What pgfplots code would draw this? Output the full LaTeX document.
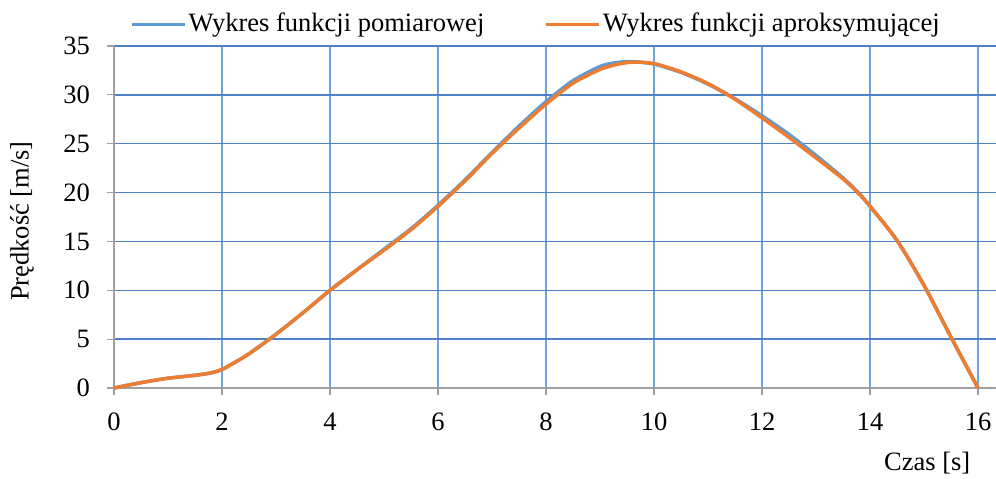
\documentclass[border=0pt]{standalone}
\usepackage{pgfplots}
\pgfplotsset{compat=1.18}
\usepackage{fontspec}
\setmainfont{Liberation Serif}
\definecolor{hgrid}{RGB}{79,129,198}
\definecolor{vgrid}{RGB}{110,165,220}
\definecolor{axgray}{RGB}{160,160,160}
\definecolor{sblue}{RGB}{91,155,213}
\definecolor{sorange}{RGB}{237,125,49}
\begin{document}
\fontsize{26.5}{31}\selectfont
\begin{tikzpicture}
\begin{axis}[
  scale only axis,
  width=882pt, height=342pt,
  xmin=0, xmax=16.333, ymin=0, ymax=35,
  xtick={0,2,...,16}, ytick={0,5,...,35},
  axis lines*=left,
  axis line style={axgray, line width=1.2pt},
  tick style={axgray, line width=1.2pt},
  tick align=outside,
  major tick length=7pt,
  /pgf/number format/assume math mode=true,
  xmajorgrids, ymajorgrids,
  x grid style={vgrid, line width=1.3pt},
  y grid style={hgrid, line width=1.3pt},
  yticklabel style={anchor=east, inner sep=0pt, xshift=-17pt},
  xticklabel style={anchor=north, inner sep=0pt, yshift=-18pt},
  xlabel={Czas [s]},
  xlabel style={at={(axis description cs:0.922,0)}, anchor=north, inner sep=0pt, yshift=-64pt},
  ylabel={Prędkość [m/s]},
  ylabel style={at={(axis description cs:0,0.488)}, anchor=center, inner sep=0pt, yshift=92pt},
  legend columns=2,
  legend style={draw=none, fill=none, at={(axis description cs:0.0181,1)}, anchor=south west, inner sep=0pt, yshift=8pt,
    /tikz/every even column/.append style={column sep=58pt}},
  legend cell align=left,
  legend image code/.code={\draw[#1, line width=3.5pt] (0pt,0pt) -- (53pt,0pt);},
  clip=false,
]
\addplot[sblue, line width=3.5pt, smooth, tension=0.45] coordinates {
(0,0) (0.5,0.55) (1,1.0) (1.5,1.3) (1.8,1.55) (2,1.9) (2.2,2.5) (2.5,3.5) (3,5.5) (3.5,7.7) (4,10.0) (4.5,12.1) (5,14.2) (5.5,16.3) (6,18.7) (6.5,21.3) (7,24.1) (7.5,26.8) (8,29.3) (8.5,31.45) (9,32.9) (9.3,33.3) (9.6,33.4) (10,33.15) (10.5,32.3) (11,31.1) (11.5,29.6) (12,27.85) (12.5,25.95) (13,23.8) (13.5,21.5) (13.8,19.9) (14,18.6) (14.5,15.1) (15,10.5) (15.5,5.2) (16,0)
};
\addlegendentry{Wykres funkcji pomiarowej}
\addplot[sorange, line width=3.5pt, smooth, tension=0.45] coordinates {
(0,0) (0.5,0.55) (1,1.0) (1.5,1.3) (1.8,1.55) (2,1.9) (2.2,2.5) (2.5,3.5) (3,5.5) (3.5,7.7) (4,10.0) (4.5,12.1) (5,14.1) (5.5,16.2) (6,18.6) (6.5,21.2) (7,24.0) (7.5,26.6) (8,29.05) (8.5,31.2) (9,32.6) (9.3,33.1) (9.6,33.35) (10,33.2) (10.5,32.35) (11,31.15) (11.5,29.55) (12,27.65) (12.5,25.65) (13,23.55) (13.5,21.4) (13.8,19.85) (14,18.6) (14.5,15.1) (15,10.5) (15.5,5.2) (16,0)
};
\addlegendentry{Wykres funkcji aproksymującej}
\coordinate (O) at (axis cs:0,0);
\end{axis}
\pgfresetboundingbox
\path[use as bounding box] (O) ++(-114pt,-91pt) rectangle ++(996pt,479pt);
\end{tikzpicture}
\end{document}
